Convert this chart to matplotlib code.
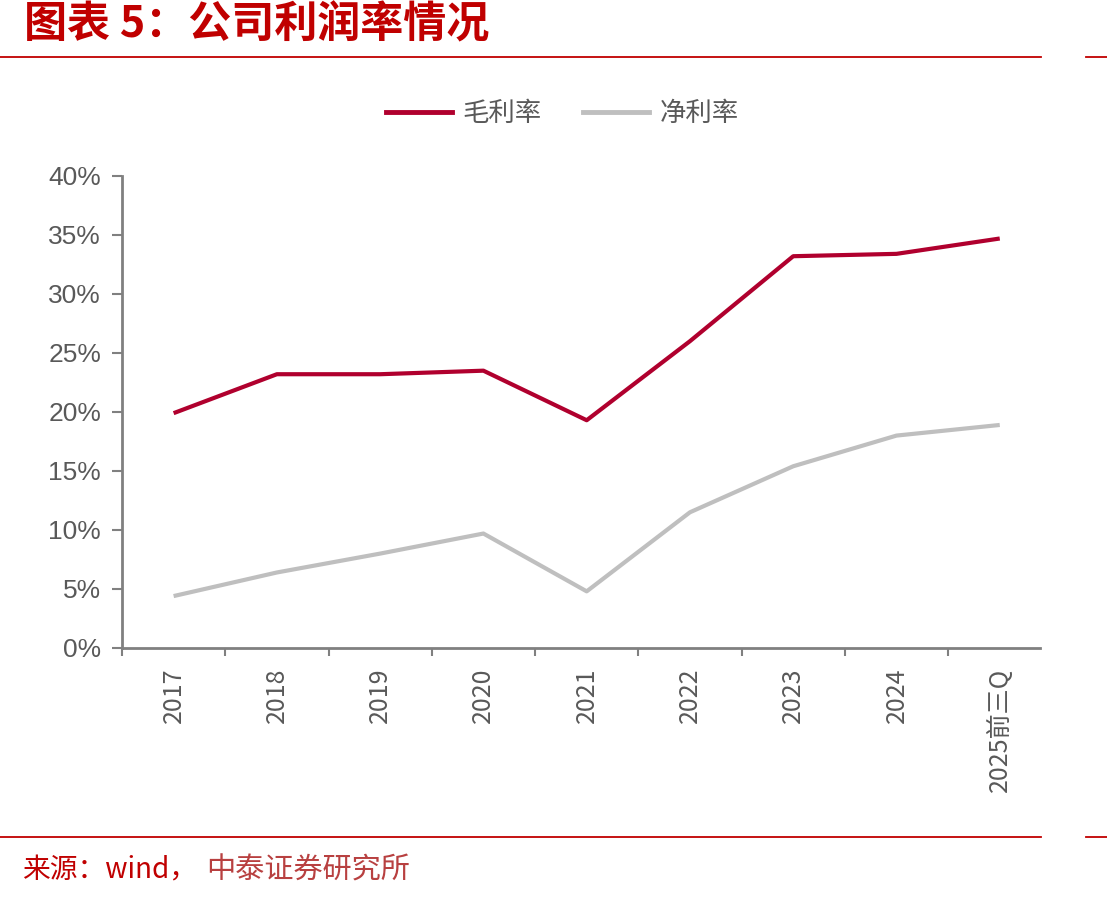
import matplotlib
matplotlib.use("Agg")
import matplotlib.pyplot as plt
from matplotlib.lines import Line2D

plt.rcParams['font.family'] = ['Liberation Sans', 'Noto Sans CJK SC', 'DejaVu Sans']

# data
years = ["2017", "2018", "2019", "2020", "2021", "2022", "2023", "2024", "2025前三Q"]
gross_margin = [19.9, 23.2, 23.2, 23.5, 19.3, 26.0, 33.2, 33.4, 34.7]
net_margin = [4.4, 6.4, 8.0, 9.7, 4.8, 11.5, 15.4, 18.0, 18.9]
yticks = [0, 5, 10, 15, 20, 25, 30, 35, 40]

RED = "#B0002E"
GRAY = "#BFBFBF"
AXIS = "#808080"
TXT = "#595959"
TITLE_RED = "#C00000"
CJK = ['Noto Sans CJK SC', 'DejaVu Sans']

fig = plt.figure(figsize=(11.07, 9.01), dpi=100)
ax = fig.add_axes([0.1102, 0.2808, 0.8293, 0.5239])

x = list(range(len(years)))
ax.plot(x, gross_margin, color=RED, lw=3.0, solid_capstyle='butt', zorder=3)
ax.plot(x, net_margin, color=GRAY, lw=3.0, solid_capstyle='butt', zorder=2)

ax.set_xlim(-0.5, 8.39)
ax.set_ylim(0, 40)
ax.set_yticks(yticks)
ax.set_yticklabels([f"{v}%" for v in yticks])

ax.set_xticks(x)
ax.set_xticklabels(years, rotation=90, va='top', ha='center', family=CJK)
ax.set_xticks([i + 0.5 for i in range(-1, 8)], minor=True)
ax.tick_params(axis='x', which='major', length=0, pad=14, labelsize=18, labelcolor=TXT)
ax.tick_params(axis='x', which='minor', length=6, width=1.5, color=AXIS, direction='out')
ax.tick_params(axis='y', length=7, width=1.5, color=AXIS, direction='out', pad=8,
               labelsize=19, labelcolor=TXT)

for side in ['top', 'right']:
    ax.spines[side].set_visible(False)
for side in ['left', 'bottom']:
    ax.spines[side].set_color(AXIS)
    ax.spines[side].set_linewidth(2)

handles = [Line2D([], [], color=RED, lw=3.5), Line2D([], [], color=GRAY, lw=3.5)]
fig.legend(handles, ["毛利率", "净利率"], loc='center', bbox_to_anchor=(0.508, 0.874),
           ncol=2, frameon=False, prop={'family': CJK, 'size': 19},
           labelcolor=TXT, handlelength=2.5, handletextpad=0.4, columnspacing=1.6)

# title and separators
fig.text(0.022, 0.973, "图表 5：公司利润率情况", color=TITLE_RED, fontsize=31,
         fontweight='bold', style='italic', va='center', ha='left', family=CJK)
for y in [0.9367, 0.0710]:
    fig.add_artist(Line2D([0, 0.94], [y, y], color=TITLE_RED, lw=1.3))
    fig.add_artist(Line2D([0.981, 1.0], [y, y], color=TITLE_RED, lw=1.3))

fig.text(0.020, 0.034, "来源：wind，", color=TITLE_RED, fontsize=20,
         va='center', ha='left', family=CJK)
fig.text(0.186, 0.034, "中泰证券研究所", color="#B84040", fontsize=21,
         va='center', ha='left', family=CJK)

fig.savefig("out.png", dpi=100)
